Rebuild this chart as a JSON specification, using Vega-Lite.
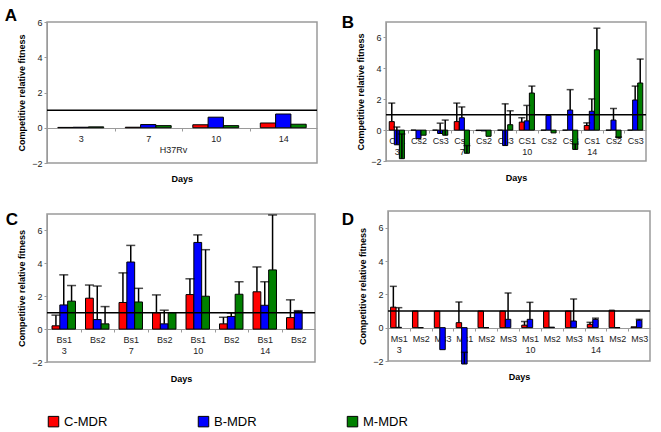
{
  "$schema": "https://vega.github.io/schema/vega-lite/v6.json",
  "padding": {"left": 3, "top": 6, "right": 2, "bottom": 2},
  "config": {
    "font": "Liberation Sans",
    "view": {"stroke": "#9a9a9a", "strokeWidth": 1.5},
    "axis": {"labelFont": "Liberation Sans", "labelFontSize": 9, "labelColor": "#222", "titleFont": "Liberation Sans", "titleFontSize": 9, "titleFontWeight": "bold", "titleColor": "#000", "domainColor": "#9a9a9a", "tickColor": "#9a9a9a", "tickSize": 3, "grid": false, "labelOverlap": false},
    "axisX": {"labelAngle": 0, "labelPadding": 3},
    "axisY": {"titlePadding": 5, "labelPadding": 2, "tickCount": 10},
    "title": {"font": "Liberation Sans", "fontSize": 17, "fontWeight": "bold", "anchor": "start", "color": "#000"}
  },
  "datasets": {
    "A": [
      {"cat": "3", "s": "C-MDR", "v": 0.02}, {"cat": "3", "s": "B-MDR", "v": 0.03}, {"cat": "3", "s": "M-MDR", "v": 0.05},
      {"cat": "7", "s": "C-MDR", "v": 0.03}, {"cat": "7", "s": "B-MDR", "v": 0.18}, {"cat": "7", "s": "M-MDR", "v": 0.12},
      {"cat": "10", "s": "C-MDR", "v": 0.17}, {"cat": "10", "s": "B-MDR", "v": 0.6}, {"cat": "10", "s": "M-MDR", "v": 0.12},
      {"cat": "14", "s": "C-MDR", "v": 0.27}, {"cat": "14", "s": "B-MDR", "v": 0.78}, {"cat": "14", "s": "M-MDR", "v": 0.2}
    ],
    "B": [
      {"cat": "Cs1|3", "s": "C-MDR", "v": 0.55, "e": 1.75}, {"cat": "Cs1|3", "s": "B-MDR", "v": -0.95, "e": 0.2}, {"cat": "Cs1|3", "s": "M-MDR", "v": -1.85, "e": -0.25},
      {"cat": "Cs2|3", "s": "C-MDR", "v": 0}, {"cat": "Cs2|3", "s": "B-MDR", "v": -0.55}, {"cat": "Cs2|3", "s": "M-MDR", "v": -0.33},
      {"cat": "Cs3|3", "s": "C-MDR", "v": 0}, {"cat": "Cs3|3", "s": "B-MDR", "v": -0.22, "e": 0.45}, {"cat": "Cs3|3", "s": "M-MDR", "v": -0.33, "e": 0.65},
      {"cat": "Cs1|7", "s": "C-MDR", "v": 0.55, "e": 1.75}, {"cat": "Cs1|7", "s": "B-MDR", "v": 0.8, "e": 1.5}, {"cat": "Cs1|7", "s": "M-MDR", "v": -1.5, "e": -1.0},
      {"cat": "Cs2|7", "s": "C-MDR", "v": -0.03}, {"cat": "Cs2|7", "s": "B-MDR", "v": -0.05}, {"cat": "Cs2|7", "s": "M-MDR", "v": -0.4},
      {"cat": "Cs3|7", "s": "C-MDR", "v": 0}, {"cat": "Cs3|7", "s": "B-MDR", "v": -1.0, "e": 1.7}, {"cat": "Cs3|7", "s": "M-MDR", "v": 0.35, "e": 1.25},
      {"cat": "CS1|10", "s": "C-MDR", "v": 0.52, "e": 0.8}, {"cat": "CS1|10", "s": "B-MDR", "v": 0.6, "e": 1.6}, {"cat": "CS1|10", "s": "M-MDR", "v": 2.4, "e": 2.85},
      {"cat": "Cs2|10", "s": "C-MDR", "v": 0}, {"cat": "Cs2|10", "s": "B-MDR", "v": 0.95}, {"cat": "Cs2|10", "s": "M-MDR", "v": -0.18},
      {"cat": "Cs3|10", "s": "C-MDR", "v": 0}, {"cat": "Cs3|10", "s": "B-MDR", "v": 1.3, "e": 2.62}, {"cat": "Cs3|10", "s": "M-MDR", "v": -1.25, "e": -0.9},
      {"cat": "Cs1|14", "s": "C-MDR", "v": 0.3, "e": 0.47}, {"cat": "Cs1|14", "s": "B-MDR", "v": 1.22, "e": 2.02}, {"cat": "Cs1|14", "s": "M-MDR", "v": 5.2, "e": 6.6},
      {"cat": "Cs2|14", "s": "C-MDR", "v": 0}, {"cat": "Cs2|14", "s": "B-MDR", "v": 0.65, "e": 1.4}, {"cat": "Cs2|14", "s": "M-MDR", "v": -0.5, "e": -0.45},
      {"cat": "Cs3|14", "s": "C-MDR", "v": 0}, {"cat": "Cs3|14", "s": "B-MDR", "v": 1.95, "e": 2.85}, {"cat": "Cs3|14", "s": "M-MDR", "v": 3.05, "e": 4.6}
    ],
    "C": [
      {"cat": "Bs1|3", "s": "C-MDR", "v": 0.2, "e": 0.85}, {"cat": "Bs1|3", "s": "B-MDR", "v": 1.47, "e": 3.3}, {"cat": "Bs1|3", "s": "M-MDR", "v": 1.7, "e": 2.65},
      {"cat": "Bs2|3", "s": "C-MDR", "v": 1.88, "e": 2.68}, {"cat": "Bs2|3", "s": "B-MDR", "v": 0.58, "e": 2.62}, {"cat": "Bs2|3", "s": "M-MDR", "v": 0.32, "e": 1.37},
      {"cat": "Bs1|7", "s": "C-MDR", "v": 1.62, "e": 3.42}, {"cat": "Bs1|7", "s": "B-MDR", "v": 4.08, "e": 5.09}, {"cat": "Bs1|7", "s": "M-MDR", "v": 1.65, "e": 2.48},
      {"cat": "Bs2|7", "s": "C-MDR", "v": 1.0, "e": 2.08}, {"cat": "Bs2|7", "s": "B-MDR", "v": 0.32, "e": 1.15}, {"cat": "Bs2|7", "s": "M-MDR", "v": 1.0},
      {"cat": "Bs1|10", "s": "C-MDR", "v": 2.1, "e": 3.06}, {"cat": "Bs1|10", "s": "B-MDR", "v": 5.27, "e": 5.73}, {"cat": "Bs1|10", "s": "M-MDR", "v": 2.0, "e": 4.83},
      {"cat": "Bs2|10", "s": "C-MDR", "v": 0.32, "e": 0.72}, {"cat": "Bs2|10", "s": "B-MDR", "v": 0.77, "e": 0.98}, {"cat": "Bs2|10", "s": "M-MDR", "v": 2.12, "e": 2.88},
      {"cat": "Bs1|14", "s": "C-MDR", "v": 2.27, "e": 3.78}, {"cat": "Bs1|14", "s": "B-MDR", "v": 1.45, "e": 2.88}, {"cat": "Bs1|14", "s": "M-MDR", "v": 3.6, "e": 6.94},
      {"cat": "Bs2|14", "s": "C-MDR", "v": 0.7, "e": 1.78}, {"cat": "Bs2|14", "s": "B-MDR", "v": 1.08, "e": 1.12}
    ],
    "D": [
      {"cat": "Ms1|3", "s": "C-MDR", "v": 1.23, "e": 2.48}, {"cat": "Ms1|3", "s": "B-MDR", "v": 0.02, "e": 1.2},
      {"cat": "Ms2|3", "s": "C-MDR", "v": 1.0}, {"cat": "Ms2|3", "s": "B-MDR", "v": 0},
      {"cat": "Ms3|3", "s": "C-MDR", "v": 1.0}, {"cat": "Ms3|3", "s": "B-MDR", "v": -1.32},
      {"cat": "Ms1|7", "s": "C-MDR", "v": 0.3, "e": 1.54}, {"cat": "Ms1|7", "s": "B-MDR", "v": -2.18, "e": -1.48},
      {"cat": "Ms2|7", "s": "C-MDR", "v": 1.0}, {"cat": "Ms2|7", "s": "B-MDR", "v": 0},
      {"cat": "Ms3|7", "s": "C-MDR", "v": 1.0}, {"cat": "Ms3|7", "s": "B-MDR", "v": 0.5, "e": 2.08},
      {"cat": "Ms1|10", "s": "C-MDR", "v": 0.15, "e": 0.37}, {"cat": "Ms1|10", "s": "B-MDR", "v": 0.5, "e": 1.52},
      {"cat": "Ms2|10", "s": "C-MDR", "v": 1.0}, {"cat": "Ms2|10", "s": "B-MDR", "v": 0.03},
      {"cat": "Ms3|10", "s": "C-MDR", "v": 1.0}, {"cat": "Ms3|10", "s": "B-MDR", "v": 0.4, "e": 1.72},
      {"cat": "Ms1|14", "s": "C-MDR", "v": 0.2, "e": 0.32}, {"cat": "Ms1|14", "s": "B-MDR", "v": 0.5, "e": 0.57},
      {"cat": "Ms2|14", "s": "C-MDR", "v": 1.05}, {"cat": "Ms2|14", "s": "B-MDR", "v": 0},
      {"cat": "Ms3|14", "s": "C-MDR", "v": 0.05}, {"cat": "Ms3|14", "s": "B-MDR", "v": 0.45, "e": 0.5}
    ],
    "ref": [{"r": 1}]
  },
  "columns": 2,
  "align": "none",
  "spacing": {"row": 26, "column": 21},
  "resolve": {"scale": {"xOffset": "independent"}},
  "concat": [
    {
      "title": {"text": "Days", "orient": "bottom", "anchor": "middle", "fontSize": 9, "offset": 6, "dx": 21},
      "resolve": {"scale": {"xOffset": "independent"}},
      "vconcat": [
        {
          "title": {"text": "A", "offset": -7, "dx": -13},
          "width": 270, "height": 141,
          "layer": [
            {
              "data": {"name": "A"},
              "mark": {"type": "bar", "stroke": "black", "strokeWidth": 1},
              "encoding": {
                "x": {"field": "cat", "type": "nominal", "scale": {"domain": ["3", "7", "10", "14"], "paddingInner": 0.32, "paddingOuter": 0.16}, "axis": {"offset": -35, "tickOffset": -33.75, "labelOffset": 33.75, "title": "H37Rv", "titleFontWeight": "normal", "titleColor": "#222", "titlePadding": 2, "titleX": 126}},
                "xOffset": {"field": "s", "type": "nominal", "scale": {"domain": ["C-MDR", "B-MDR", "M-MDR"]}},
                "y": {"field": "v", "type": "quantitative", "scale": {"domain": [-2, 6], "nice": false, "zero": false}, "axis": {"values": [-2, 0, 2, 4, 6], "tickCount": 10, "labelOverlap": false, "title": "Competitive relative fitness"}},
                "color": {"field": "s", "type": "nominal", "scale": {"domain": ["C-MDR", "B-MDR", "M-MDR"], "range": ["#ff0000", "#0000ff", "#008000"]}, "legend": {"title": null, "orient": "bottom", "direction": "horizontal", "symbolType": "square", "symbolSize": 110, "symbolStrokeColor": "#000", "symbolStrokeWidth": 1, "labelFontSize": 13, "labelColor": "#000", "columnPadding": 88, "offset": 31}}
              }
            },
            {
              "data": {"name": "ref"},
              "mark": {"type": "rule", "color": "#000", "strokeWidth": 1.5},
              "encoding": {"y": {"field": "r", "type": "quantitative"}}
            }
          ]
        }
      ]
    },
    {
      "title": {"text": "B", "offset": -10, "dx": -15},
      "width": 260, "height": 139,
      "layer": [
        {
          "data": {"name": "B"},
          "mark": {"type": "bar", "stroke": "black", "strokeWidth": 1},
          "encoding": {
            "x": {"field": "cat", "type": "nominal", "scale": {"domain": ["Cs1|3", "Cs2|3", "Cs3|3", "Cs1|7", "Cs2|7", "Cs3|7", "CS1|10", "Cs2|10", "Cs3|10", "Cs1|14", "Cs2|14", "Cs3|14"], "paddingInner": 0.3, "paddingOuter": 0.15}, "axis": {"offset": -31, "tickOffset": -10.83, "labelOffset": 10.83, "title": "Days", "titleY": 43, "labelExpr": "indexof(datum.value, '1|') >= 0 ? split(datum.value, '|') : [split(datum.value, '|')[0], '']"}},
            "xOffset": {"field": "s", "type": "nominal", "scale": {"domain": ["C-MDR", "B-MDR", "M-MDR"]}},
            "y": {"field": "v", "type": "quantitative", "scale": {"domain": [-2, 7], "nice": false, "zero": false}, "axis": {"values": [-2, 0, 2, 4, 6], "tickCount": 10, "labelOverlap": false, "title": "Competitive relative fitness"}},
            "color": {"field": "s", "type": "nominal"}
          }
        },
        {
          "data": {"name": "B"},
          "transform": [{"filter": "isValid(datum.e)"}],
          "mark": {"type": "rule", "color": "#000", "strokeWidth": 1.5},
          "encoding": {
            "x": {"field": "cat", "type": "nominal"},
            "xOffset": {"field": "s", "type": "nominal"},
            "y": {"field": "v", "type": "quantitative"},
            "y2": {"field": "e"}
          }
        },
        {
          "data": {"name": "B"},
          "transform": [{"filter": "isValid(datum.e)"}],
          "mark": {"type": "tick", "orient": "horizontal", "color": "#000", "size": 7, "thickness": 1.5},
          "encoding": {
            "x": {"field": "cat", "type": "nominal"},
            "xOffset": {"field": "s", "type": "nominal"},
            "y": {"field": "e", "type": "quantitative"}
          }
        },
        {
          "data": {"name": "ref"},
          "mark": {"type": "rule", "color": "#000", "strokeWidth": 1.5},
          "encoding": {"y": {"field": "r", "type": "quantitative"}}
        }
      ]
    },
    {
      "title": {"text": "C", "offset": -15, "dx": -12},
      "width": 268, "height": 148,
      "layer": [
        {
          "data": {"name": "C"},
          "mark": {"type": "bar", "stroke": "black", "strokeWidth": 1},
          "encoding": {
            "x": {"field": "cat", "type": "nominal", "scale": {"domain": ["Bs1|3", "Bs2|3", "Bs1|7", "Bs2|7", "Bs1|10", "Bs2|10", "Bs1|14", "Bs2|14"], "paddingInner": 0.3, "paddingOuter": 0.15}, "axis": {"offset": -33, "tickOffset": -16.75, "labelOffset": 16.75, "title": "Days", "titleY": 45, "labelExpr": "indexof(datum.value, '1|') >= 0 ? split(datum.value, '|') : [split(datum.value, '|')[0], '']"}},
            "xOffset": {"field": "s", "type": "nominal", "scale": {"domain": ["C-MDR", "B-MDR", "M-MDR"]}},
            "y": {"field": "v", "type": "quantitative", "scale": {"domain": [-2, 7], "nice": false, "zero": false}, "axis": {"values": [-2, 0, 2, 4, 6], "tickCount": 10, "labelOverlap": false, "title": "Competitive relative fitness"}},
            "color": {"field": "s", "type": "nominal"}
          }
        },
        {
          "data": {"name": "C"},
          "transform": [{"filter": "isValid(datum.e)"}],
          "mark": {"type": "rule", "color": "#000", "strokeWidth": 1.5},
          "encoding": {
            "x": {"field": "cat", "type": "nominal"},
            "xOffset": {"field": "s", "type": "nominal"},
            "y": {"field": "v", "type": "quantitative"},
            "y2": {"field": "e"}
          }
        },
        {
          "data": {"name": "C"},
          "transform": [{"filter": "isValid(datum.e)"}],
          "mark": {"type": "tick", "orient": "horizontal", "color": "#000", "size": 9, "thickness": 1.5},
          "encoding": {
            "x": {"field": "cat", "type": "nominal"},
            "xOffset": {"field": "s", "type": "nominal"},
            "y": {"field": "e", "type": "quantitative"}
          }
        },
        {
          "data": {"name": "ref"},
          "mark": {"type": "rule", "color": "#000", "strokeWidth": 1.5},
          "encoding": {"y": {"field": "r", "type": "quantitative"}}
        }
      ]
    },
    {
      "title": {"text": "D", "offset": -18, "dx": -17},
      "width": 262, "height": 150,
      "layer": [
        {
          "data": {"name": "D"},
          "mark": {"type": "bar", "stroke": "black", "strokeWidth": 1},
          "encoding": {
            "x": {"field": "cat", "type": "nominal", "scale": {"domain": ["Ms1|3", "Ms2|3", "Ms3|3", "Ms1|7", "Ms2|7", "Ms3|7", "Ms1|10", "Ms2|10", "Ms3|10", "Ms1|14", "Ms2|14", "Ms3|14"], "paddingInner": 0.25, "paddingOuter": 0.12}, "axis": {"offset": -33, "tickOffset": -10.9, "labelOffset": 10.9, "title": "Days", "titleY": 44, "labelExpr": "indexof(datum.value, '1|') >= 0 ? split(datum.value, '|') : [split(datum.value, '|')[0], '']"}},
            "xOffset": {"field": "s", "type": "nominal", "scale": {"domain": ["C-MDR", "B-MDR", "M-MDR"]}},
            "y": {"field": "v", "type": "quantitative", "scale": {"domain": [-2, 7], "nice": false, "zero": false}, "axis": {"values": [-2, 0, 2, 4, 6], "tickCount": 10, "labelOverlap": false, "title": "Competitive relative fitness"}},
            "color": {"field": "s", "type": "nominal"}
          }
        },
        {
          "data": {"name": "D"},
          "transform": [{"filter": "isValid(datum.e)"}],
          "mark": {"type": "rule", "color": "#000", "strokeWidth": 1.5},
          "encoding": {
            "x": {"field": "cat", "type": "nominal"},
            "xOffset": {"field": "s", "type": "nominal"},
            "y": {"field": "v", "type": "quantitative"},
            "y2": {"field": "e"}
          }
        },
        {
          "data": {"name": "D"},
          "transform": [{"filter": "isValid(datum.e)"}],
          "mark": {"type": "tick", "orient": "horizontal", "color": "#000", "size": 7, "thickness": 1.5},
          "encoding": {
            "x": {"field": "cat", "type": "nominal"},
            "xOffset": {"field": "s", "type": "nominal"},
            "y": {"field": "e", "type": "quantitative"}
          }
        },
        {
          "data": {"name": "ref"},
          "mark": {"type": "rule", "color": "#000", "strokeWidth": 1.5},
          "encoding": {"y": {"field": "r", "type": "quantitative"}}
        }
      ]
    }
  ]
}
